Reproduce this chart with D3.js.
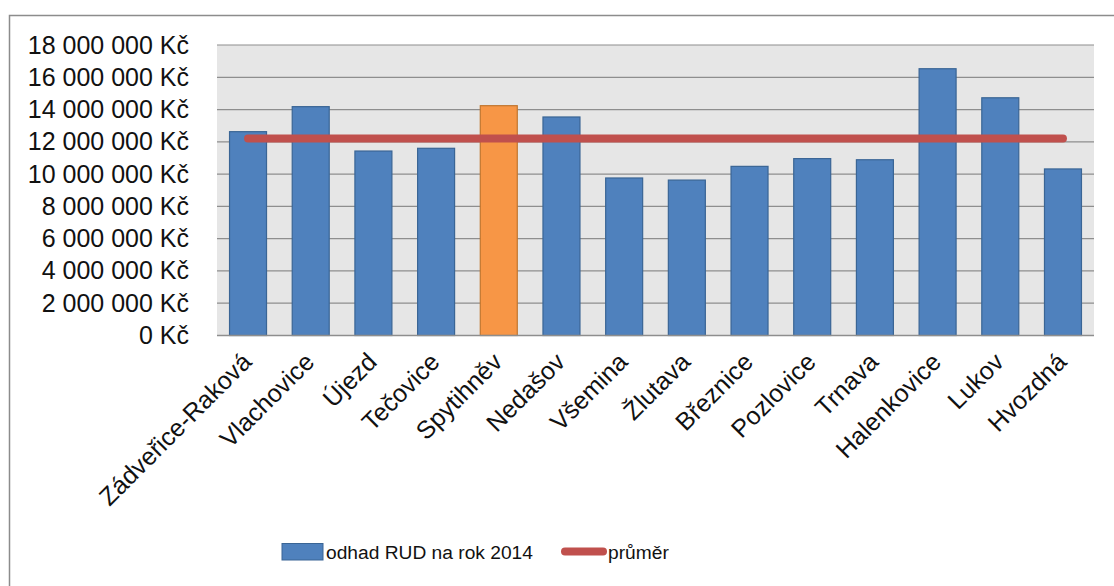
<!DOCTYPE html>
<html>
<head>
<meta charset="utf-8">
<script src="https://cdn.jsdelivr.net/npm/d3@7"></script>
<style>
  html, body { margin: 0; padding: 0; background: #fff; }
  svg { display: block; }
  text { font-family: "Liberation Sans", Arial, sans-serif; fill: #111; }
</style>
</head>
<body>
<svg id="chart" width="1114" height="586"></svg>
<script>
// Obce a odhad RUD na rok 2014 (Kč)
const obce = ["Zádveřice-Raková", "Vlachovice", "Újezd", "Tečovice", "Spytihněv",
  "Nedašov", "Všemina", "Žlutava", "Březnice", "Pozlovice", "Trnava",
  "Halenkovice", "Lukov", "Hvozdná"];
const odhadRUD = [12630000, 14180000, 11430000, 11600000, 14240000,
  13540000, 9760000, 9630000, 10480000, 10960000, 10890000,
  16530000, 14730000, 10320000];
const zvyraznena = "Spytihněv";
const yTicks = [0, 2000000, 4000000, 6000000, 8000000, 10000000,
  12000000, 14000000, 16000000, 18000000];
const legendLabels = ["odhad RUD na rok 2014", "průměr"];

const prumer = d3.mean(odhadRUD);

const svg = d3.select("#chart");
const plot = { left: 217, right: 1094, top: 45, bottom: 335.5 };

const x = d3.scaleBand().domain(obce)
  .range([plot.left, plot.right]).paddingInner(0.41).paddingOuter(0.2);
const y = d3.scaleLinear().domain([0, 18000000]).range([plot.bottom, plot.top]);

const fmt = v => d3.format(",")(v).replace(/,/g, "\u00a0") + " Kč";

// chart frame (left and top edges)
svg.append("path")
  .attr("d", "M9.5,586 V15.5 H1114")
  .attr("fill", "none").attr("stroke", "#8c8c8c").attr("stroke-width", 1.5);

// plot background
svg.append("rect")
  .attr("x", plot.left).attr("y", plot.top)
  .attr("width", plot.right - plot.left).attr("height", plot.bottom - plot.top)
  .attr("fill", "#e6e6e6");

// gridlines
svg.append("g").selectAll("line").data(yTicks.filter(d => d > 0)).join("line")
  .attr("x1", plot.left).attr("x2", plot.right)
  .attr("y1", d => y(d)).attr("y2", d => y(d))
  .attr("stroke", "#8e8e8e").attr("stroke-width", 1.2);

// y axis labels
const yAxis = d3.axisLeft(y).tickValues(yTicks).tickFormat(fmt).tickSize(0).tickPadding(0);
const yg = svg.append("g").attr("transform", "translate(189,0)").call(yAxis);
yg.select(".domain").remove();
yg.selectAll("text").attr("font-size", 25).attr("fill", "#111")
  .style("font-family", "'Liberation Sans', Arial, sans-serif");

// bars
svg.append("g").selectAll("rect").data(obce).join("rect")
  .attr("x", d => x(d)).attr("width", x.bandwidth())
  .attr("y", (d, i) => y(odhadRUD[i]))
  .attr("height", (d, i) => y(0) - y(odhadRUD[i]))
  .attr("fill", d => d === zvyraznena ? "#f79646" : "#4f81bd")
  .attr("stroke", d => d === zvyraznena ? "#c0762f" : "#3a6595")
  .attr("stroke-width", 1.2);

// category axis line
svg.append("line")
  .attr("x1", plot.left).attr("x2", plot.right)
  .attr("y1", plot.bottom).attr("y2", plot.bottom)
  .attr("stroke", "#8e8e8e").attr("stroke-width", 1.5);

// average line
const line = d3.line()
  .x(d => x(d) + x.bandwidth() / 2)
  .y(() => y(prumer));
svg.append("path").datum(obce)
  .attr("d", line)
  .attr("fill", "none").attr("stroke", "#c0504d")
  .attr("stroke-width", 8).attr("stroke-linecap", "round");

// category labels, rotated
const xAxis = d3.axisBottom(x).tickSize(0).tickPadding(0);
const xg = svg.append("g").attr("transform", `translate(0,${plot.bottom})`).call(xAxis);
xg.select(".domain").remove();
xg.selectAll("text")
  .attr("font-size", 25).attr("fill", "#111")
  .style("font-family", "'Liberation Sans', Arial, sans-serif")
  .attr("text-anchor", "end")
  .attr("dy", null).attr("y", null)
  .attr("transform", "translate(5,28) rotate(-45)");

// legend
const lg = svg.append("g");
lg.append("rect").attr("x", 282).attr("y", 543.5).attr("width", 41).attr("height", 16.5)
  .attr("fill", "#4f81bd").attr("stroke", "#3a6595").attr("stroke-width", 1);
lg.append("text").attr("x", 326).attr("y", 559).attr("font-size", 19.2)
  .text(legendLabels[0]);
lg.append("line").attr("x1", 565).attr("x2", 603).attr("y1", 551.5).attr("y2", 551.5)
  .attr("stroke", "#c0504d").attr("stroke-width", 8).attr("stroke-linecap", "round");
lg.append("text").attr("x", 608).attr("y", 559).attr("font-size", 19.2)
  .text(legendLabels[1]);
</script>
</body>
</html>
